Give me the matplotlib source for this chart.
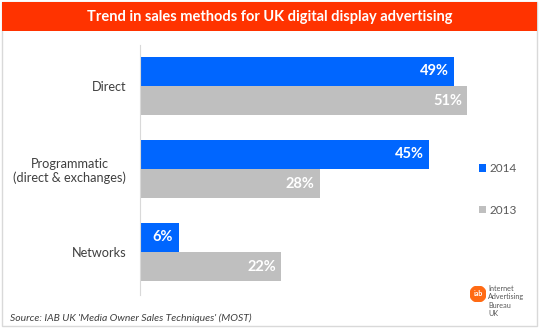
import matplotlib.pyplot as plt
from matplotlib.patches import Rectangle, Circle
import numpy as np

plt.rcParams['font.family'] = ['Lato', 'DejaVu Sans']

categories = ['Direct', 'Programmatic\n(direct & exchanges)', 'Networks']
years = ['2014', '2013']
values_2014 = [49, 45, 6]
values_2013 = [51, 28, 22]
colors = ['#0066FF', '#BFBFBF']

W, H = 540, 331
fig = plt.figure(figsize=(W / 100, H / 100), dpi=100)


def px(x, y):
    # pixel coords (top-left origin) -> figure fraction
    return x / W, 1 - y / H


# outer frame and title bar
fig.patches.append(Rectangle((2 / W, 1 - 326 / H), 535 / W, 324 / H,
                             transform=fig.transFigure, fill=False,
                             edgecolor='#D9D9D9', lw=1))
fig.patches.append(Rectangle((2 / W, 1 - 31 / H), 535 / W, 29 / H,
                             transform=fig.transFigure, facecolor='#FF3300',
                             edgecolor='none'))
fig.text(*px(270, 17), 'Trend in sales methods for UK digital display advertising',
         color='white', fontsize=10.5, fontweight='bold', ha='center', va='center')

# bars
ax = fig.add_axes([140 / W, 1 - 295 / H, 385 / W, 250 / H])
y = np.arange(len(categories))
h = 0.355
b1 = ax.barh(y - h / 2, values_2014, height=h, color=colors[0], label=years[0])
b2 = ax.barh(y + h / 2, values_2013, height=h, color=colors[1], label=years[1])
ax.set_xlim(0, 60)
ax.set_ylim(2.518, -0.494)

for bars, vals in [(b1, values_2014), (b2, values_2013)]:
    for bar, v in zip(bars, vals):
        ax.text(v - 0.8, bar.get_y() + bar.get_height() / 2, f'{v}%',
                color='white', fontsize=10.5, fontweight='bold',
                ha='right', va='center')

ax.set_yticks(y)
ax.set_yticklabels(categories, fontsize=9.2, color='#404040', multialignment='center')
ax.tick_params(axis='y', length=0, pad=10)
ax.set_xticks([])
for s in ['top', 'right', 'bottom']:
    ax.spines[s].set_visible(False)
ax.spines['left'].set_color('#D9D9D9')

fig.legend(handles=[b1, b2], loc='center left', bbox_to_anchor=px(468, 189.5),
           frameon=False, fontsize=8.5, labelcolor='#595959',
           handlelength=0.6, handleheight=0.6, handletextpad=0.3,
           labelspacing=2.6)

# source
fig.text(*px(10, 318), "Source: IAB UK 'Media Owner Sales Techniques' (MOST)",
         fontsize=7.5, style='italic', color='#404040', ha='left', va='center')

# logo
logo_ax = fig.add_axes([470 / W, 1 - 302 / H, 16 / W, 16 / H])
logo_ax.add_patch(Circle((0.5, 0.5), 0.5, color='#FF6A13'))
logo_ax.text(0.5, 0.5, 'iab', color='white', fontsize=5, fontweight='bold',
             ha='center', va='center')
logo_ax.set_xlim(0, 1)
logo_ax.set_ylim(0, 1)
logo_ax.set_aspect('equal')
logo_ax.axis('off')
fig.text(*px(488, 301), 'Internet\nAdvertising\nBureau\nUK', fontsize=5.2,
         color='#595959', ha='left', va='center', linespacing=1.25)

fig.savefig('out.png', dpi=100)
